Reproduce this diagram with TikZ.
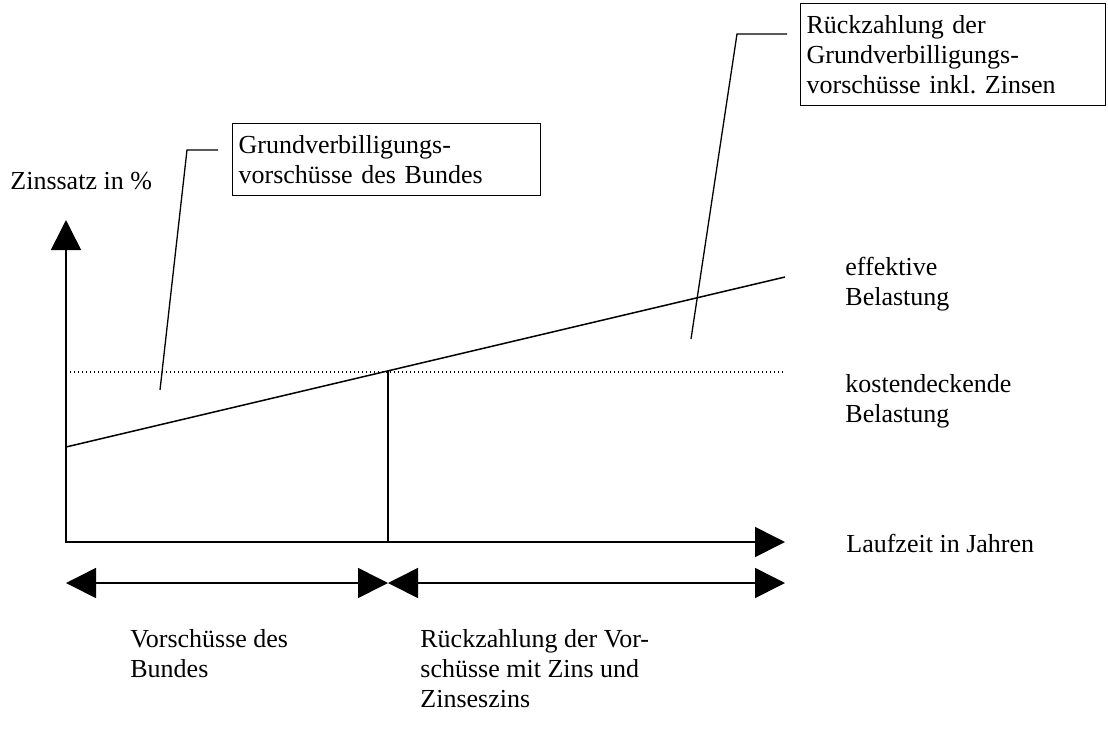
\documentclass[tikz,border=0pt]{standalone}
\usepackage{fontspec}
\setmainfont{Liberation Serif}
\usetikzlibrary{arrows.meta}
\newcommand{\chartfont}{\fontsize{13pt}{15pt}\selectfont\frenchspacing}

\begin{document}
\begin{tikzpicture}[
    x=0.5pt, y=-0.5pt,
    span/.style={line width=0.8pt, {Triangle[length=15pt, width=15pt]}-{Triangle[length=15pt, width=15pt]}},
    curve/.style={line width=0.75pt},
    level/.style={line width=0.6pt, dash pattern=on 0.6pt off 1.4pt},
    leader/.style={line width=0.65pt},
    callout/.style={rectangle, draw, line width=0.6pt, anchor=north west, align=left, inner xsep=3pt, inner ysep=0pt, font=\chartfont},
    lbl/.style={anchor=north west, align=left, inner sep=0pt, font=\chartfont}
  ]
  \useasboundingbox (0,0) rectangle (1108,734);

  % axes
  \coordinate (ytip) at (66,220);
  \coordinate (origin) at (66,542);
  \coordinate (xtip) at (785,542);
  \draw[span] (ytip) -- (origin) -- (xtip);

  \coordinate (lvlstart) at (66,372);
  \coordinate (lvlend) at (785,372);
  \coordinate (effstart) at (66,447);
  \coordinate (effend) at (785,277);
  \coordinate (cross) at (388,371);
  \coordinate (foot) at (388,542);
  \draw[level] (lvlstart) -- (lvlend);
  \draw[curve] (effstart) -- (effend);
  \draw[curve] (cross) -- (foot);

  % periods
  \coordinate (pleft) at (66,583);
  \coordinate (pmid) at (388,583);
  \coordinate (pright) at (785,583);
  \draw[span] (pleft) -- (pmid);
  \draw[span] (pmid) -- (pright);

  % callouts
  \node[callout, text width=148pt, minimum height=36pt] (grundbox) at (232,123) {Grundverbilligungs-\\vorschüsse des Bundes};
  \node[callout, text width=146.5pt, minimum height=51pt] (rueckbox) at (800,3) {Rückzahlung der\\Grundverbilligungs-\\vorschüsse inkl. Zinsen};

  \coordinate (gend) at (218,150);
  \coordinate (gknee) at (187,150);
  \coordinate (gtip) at (160,390);
  \draw[leader] (gend) -- (gknee) -- (gtip);
  \coordinate (rend) at (787,34);
  \coordinate (rknee) at (737,34);
  \coordinate (rtip) at (691,339);
  \draw[leader] (rend) -- (rknee) -- (rtip);

  % labels
  \node[lbl] (zins) at (10,172) {Zinssatz in \%};
  \node[lbl] (eff) at (845,257) {effektive\\Belastung};
  \node[lbl] (kost) at (845,374) {kostendeckende\\Belastung};
  \node[lbl] (lauf) at (846,534) {Laufzeit in Jahren};
  \node[lbl] (vorsch) at (130,629) {Vorschüsse des\\Bundes};
  \node[lbl] (rueck) at (420,629) {Rückzahlung der Vor-\\schüsse mit Zins und\\Zinseszins};
\end{tikzpicture}
\end{document}
